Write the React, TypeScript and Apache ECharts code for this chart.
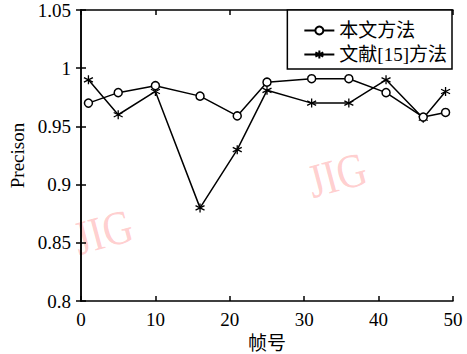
import React, { useEffect, useRef } from "react";
import * as echarts from "echarts";

const frames = [1, 5, 10, 16, 21, 25, 31, 36, 41, 46, 49];
const oursValues = [0.970, 0.979, 0.985, 0.976, 0.959, 0.988, 0.991, 0.991, 0.979, 0.958, 0.962];
const refValues = [0.990, 0.960, 0.980, 0.880, 0.930, 0.981, 0.970, 0.970, 0.990, 0.957, 0.980];
const seriesNames = ["本文方法", "文献[15]方法"];
const xTicks = [0, 10, 20, 30, 40, 50];
const yTicks = [0.8, 0.85, 0.9, 0.95, 1.0, 1.05];

const FONT = "'Liberation Serif', 'Times New Roman', 'Noto Sans CJK SC', serif";
const ASTERISK = "path://M5,0 L5,10 M0.67,2.5 L9.33,7.5 M0.67,7.5 L9.33,2.5";

export default function App() {
  const ref = useRef<HTMLDivElement>(null);
  useEffect(() => {
    if (!ref.current) return;
    const chart = echarts.init(ref.current, undefined, { renderer: "svg" });
    const axisLine = { show: true, lineStyle: { color: "#000", width: 1.5 } };
    const axisTick = { show: true, inside: true, length: 5, lineStyle: { color: "#000", width: 1.5 } };
    chart.setOption({
      animation: false,
      backgroundColor: "#fff",
      grid: { left: 81, right: 14, top: 10, bottom: 53, containLabel: false, outerBoundsMode: "none" },
      legend: {
        orient: "vertical",
        right: 15,
        top: 10,
        backgroundColor: "#fff",
        borderColor: "#000",
        borderWidth: 1.5,
        borderRadius: 0,
        padding: [11, 5, 5, 16],
        itemGap: 5,
        itemWidth: 30,
        itemHeight: 10,
        textStyle: { fontFamily: FONT, fontSize: 19, color: "#000" },
        data: seriesNames,
      },
      xAxis: [
        {
          type: "value",
          min: xTicks[0],
          max: xTicks[xTicks.length - 1],
          interval: 10,
          name: "帧号",
          nameLocation: "middle",
          nameGap: 31,
          nameTextStyle: { fontFamily: FONT, fontSize: 19, color: "#000" },
          axisLine,
          axisTick,
          splitLine: { show: false },
          axisLabel: { fontFamily: FONT, fontSize: 19, color: "#000", margin: 9 },
        },
        {
          type: "value",
          position: "top",
          min: xTicks[0],
          max: xTicks[xTicks.length - 1],
          interval: 10,
          axisLine,
          axisTick,
          splitLine: { show: false },
          axisLabel: { show: false },
        },
      ],
      yAxis: [
        {
          type: "value",
          min: yTicks[0],
          max: yTicks[yTicks.length - 1],
          interval: 0.05,
          name: "Precison",
          nameLocation: "middle",
          nameGap: 52,
          nameTextStyle: { fontFamily: FONT, fontSize: 19, color: "#000" },
          axisLine,
          axisTick,
          splitLine: { show: false },
          axisLabel: {
            fontFamily: FONT,
            fontSize: 19,
            color: "#000",
            margin: 10,
            formatter: (v: number) => String(+v.toFixed(2)),
          },
        },
        {
          type: "value",
          position: "right",
          min: yTicks[0],
          max: yTicks[yTicks.length - 1],
          interval: 0.05,
          axisLine,
          axisTick,
          splitLine: { show: false },
          axisLabel: { show: false },
        },
      ],
      graphic: [
        {
          type: "text",
          x: 103,
          y: 232,
          rotation: 0.26,
          z: -10,
          style: {
            text: "JIG",
            fontFamily: FONT,
            fontSize: 48,
            fill: "rgba(255,130,130,0.4)",
            align: "center",
            verticalAlign: "middle",
          },
          scaleX: 0.85,
        },
        {
          type: "text",
          x: 337,
          y: 175,
          rotation: 0.26,
          z: -10,
          style: {
            text: "JIG",
            fontFamily: FONT,
            fontSize: 48,
            fill: "rgba(255,130,130,0.4)",
            align: "center",
            verticalAlign: "middle",
          },
          scaleX: 0.85,
        },
      ],
      series: [
        {
          name: seriesNames[0],
          type: "line",
          data: frames.map((f, i) => [f, oursValues[i]]),
          symbol: "circle",
          symbolSize: 8,
          showAllSymbol: true,
          lineStyle: { color: "#000", width: 1.5 },
          itemStyle: { color: "#fff", borderColor: "#000", borderWidth: 1.5 },
          z: 3,
        },
        {
          name: seriesNames[1],
          type: "line",
          data: frames.map((f, i) => [f, refValues[i]]),
          symbol: ASTERISK,
          symbolSize: 9,
          showAllSymbol: true,
          lineStyle: { color: "#000", width: 1.5 },
          itemStyle: { color: "transparent", borderColor: "#000", borderWidth: 1.3 },
          z: 2,
        },
      ],
    });
    return () => chart.dispose();
  }, []);
  return (
    <div
      ref={ref}
      style={{ position: "fixed", left: 0, top: 0, width: 467, height: 354 }}
    />
  );
}
